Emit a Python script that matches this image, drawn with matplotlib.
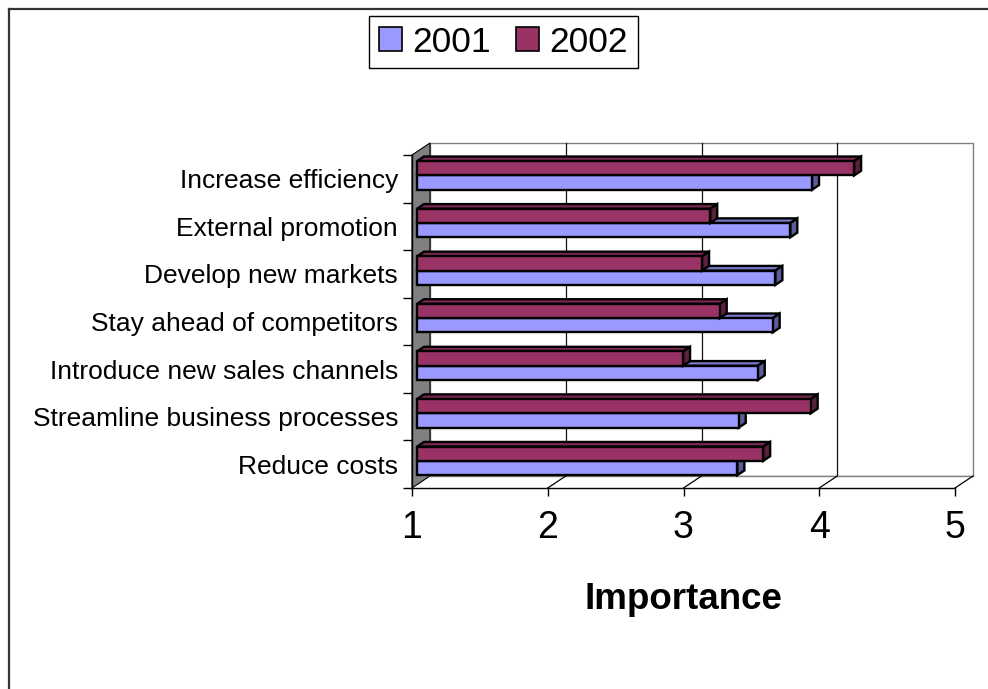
import matplotlib
matplotlib.use("Agg")
import matplotlib.pyplot as plt
from matplotlib.patches import Polygon, Rectangle, Patch
from matplotlib.lines import Line2D

plt.rcParams['font.family'] = ['Liberation Sans', 'DejaVu Sans']

# Data (bottom to top)
categories = [
    "Reduce costs",
    "Streamline business processes",
    "Introduce new sales channels",
    "Stay ahead of competitors",
    "Develop new markets",
    "External promotion",
    "Increase efficiency",
]
values_2001 = [3.36, 3.37, 3.51, 3.62, 3.64, 3.75, 3.91]
values_2002 = [3.55, 3.90, 2.96, 3.23, 3.10, 3.16, 4.22]
series_names = ["2001", "2002"]
x_ticks = [1, 2, 3, 4, 5]

# Face colours: front, top, side
col_2001 = ("#9999FF", "#7A7ACC", "#5C5C99")
col_2002 = ("#993366", "#7A2952", "#5C1F3D")

W, H = 988, 689
fig = plt.figure(figsize=(W / 100, H / 100), dpi=100)
fig.patch.set_facecolor("white")

# Chart-area border (left and top edges)
fig.add_artist(Line2D([9 / W, 9 / W], [0, 1 - 9 / H], transform=fig.transFigure,
                      color="#333333", lw=1.6))
fig.add_artist(Line2D([9 / W, 1], [1 - 9 / H, 1 - 9 / H], transform=fig.transFigure,
                      color="#333333", lw=1.6))

# Plot area: front plane, x 1..5 and 7 category bands
x0px, x1px, ytop, ybot = 412, 955, 155, 488
ax = fig.add_axes([x0px / W, 1 - ybot / H, (x1px - x0px) / W, (ybot - ytop) / H])
ax.set_xlim(1, 5)
ax.set_ylim(0, 7)
ax.patch.set_visible(False)

# Oblique depth offset (full depth) in data units
DX = 18 / ((x1px - x0px) / 4)
DY = 12 / ((ybot - ytop) / 7)

# Back wall
ax.add_patch(Polygon([(1 + DX, DY), (5 + DX, DY), (5 + DX, 7 + DY), (1 + DX, 7 + DY)],
                     closed=True, facecolor="white", edgecolor="#808080", lw=1.0,
                     clip_on=False, zorder=1))
# Vertical gridlines on back wall
for xv in x_ticks[1:-1]:
    ax.plot([xv + DX, xv + DX], [DY, 7 + DY], color="#111111", lw=0.9, clip_on=False, zorder=1.5)
# Floor
ax.add_patch(Polygon([(1, 0), (5, 0), (5 + DX, DY), (1 + DX, DY)], closed=True,
                     facecolor="white", edgecolor="none", clip_on=False, zorder=1))
ax.plot([1 + DX, 5 + DX], [DY, DY], color="#808080", lw=1.0, clip_on=False, zorder=1.6)
for xv in x_ticks[1:]:
    ax.plot([xv, xv + DX], [0, DY], color="black", lw=0.9, clip_on=False, zorder=1.6)
# Left wall
ax.add_patch(Polygon([(1, 0), (1 + DX, DY), (1 + DX, 7 + DY), (1, 7)], closed=True,
                     facecolor="#808080", edgecolor="black", lw=0.8, clip_on=False, zorder=1.7))

# 3-D bars
t0, t1 = 5 / 18, 12 / 18
bar_h = 0.3


def draw_bar(v, yb, cols):
    ox0, oy0 = DX * t0, DY * t0
    ox1, oy1 = DX * t1, DY * t1
    front, top, side = cols
    kw = dict(edgecolor="black", lw=1.7, clip_on=False, joinstyle="miter", zorder=3)
    ax.add_patch(Polygon([(1 + ox0, yb + bar_h + oy0), (v + ox0, yb + bar_h + oy0),
                          (v + ox1, yb + bar_h + oy1), (1 + ox1, yb + bar_h + oy1)],
                         closed=True, facecolor=top, **kw))
    ax.add_patch(Polygon([(v + ox0, yb + oy0), (v + ox1, yb + oy1),
                          (v + ox1, yb + bar_h + oy1), (v + ox0, yb + bar_h + oy0)],
                         closed=True, facecolor=side, **kw))
    ax.add_patch(Rectangle((1 + ox0, yb + oy0), v - 1, bar_h, facecolor=front, **kw))


for k in range(len(categories)):
    c = k + 0.5
    draw_bar(values_2001[k], c - bar_h, col_2001)
    draw_bar(values_2002[k], c, col_2002)

# Axes styling
for s in ("top", "right"):
    ax.spines[s].set_visible(False)
for s in ("left", "bottom"):
    ax.spines[s].set_color("black")
    ax.spines[s].set_linewidth(1.0)
    ax.spines[s].set_zorder(2)

ax.set_xticks(x_ticks)
ax.set_xticklabels([str(t) for t in x_ticks], fontsize=27)
ax.tick_params(axis="x", direction="out", length=6, width=1.0, pad=10)

ax.set_yticks([k + 0.5 for k in range(len(categories))])
ax.set_yticklabels(categories, fontsize=19)
ax.set_yticks(range(len(categories) + 1), minor=True)
ax.tick_params(axis="y", which="major", length=0, pad=10)
ax.tick_params(axis="y", which="minor", direction="out", length=6.5, width=1.0)

ax.set_xlabel("Importance", fontsize=26.5, fontweight="bold", labelpad=26)

# Legend
handles = [Patch(facecolor=col_2001[0], edgecolor="black", lw=1.2),
           Patch(facecolor=col_2002[0], edgecolor="black", lw=1.2)]
leg = fig.legend(handles, series_names, loc="center",
                 bbox_to_anchor=(503.5 / W, 1 - 42 / H), ncol=2, fontsize=25.5,
                 handlelength=0.64, handleheight=0.64, handletextpad=0.3,
                 columnspacing=0.7, borderpad=0.28, fancybox=False, framealpha=1)
leg.get_frame().set_edgecolor("black")
leg.get_frame().set_linewidth(1.0)

fig.savefig("out.png", dpi=100, facecolor="white")
